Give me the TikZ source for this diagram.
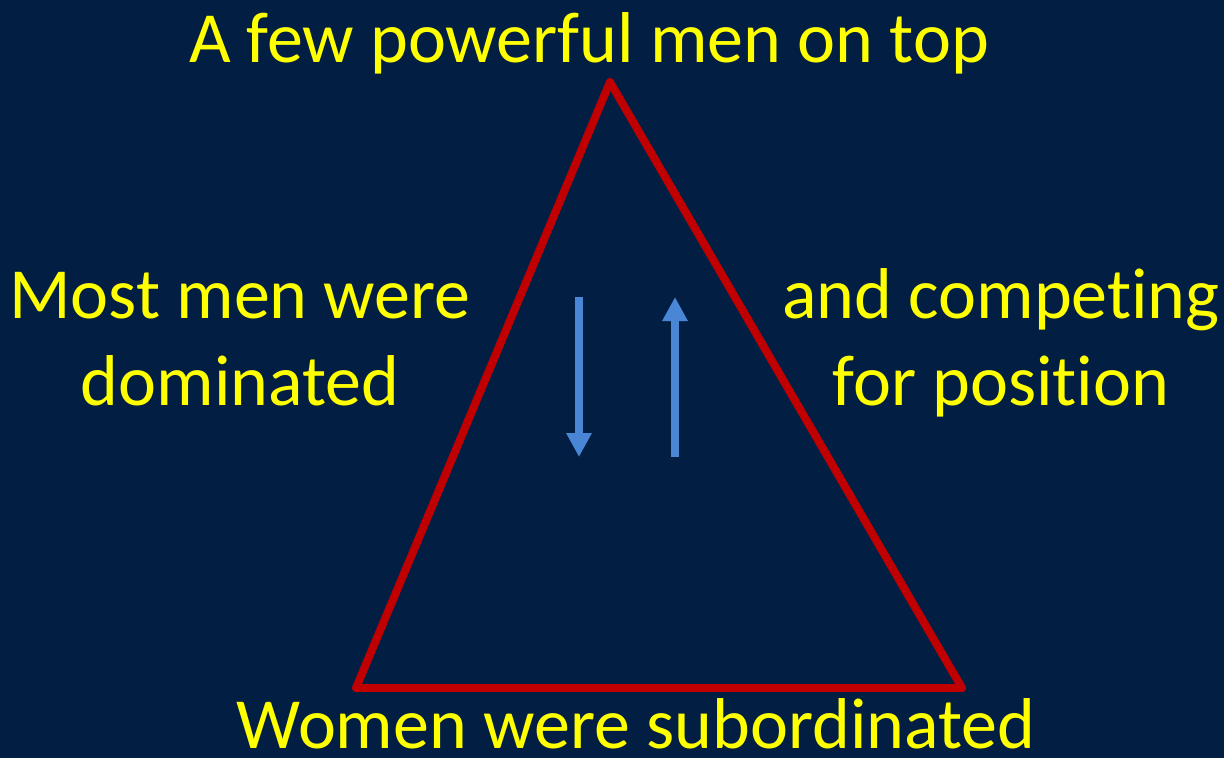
\documentclass[tikz,border=0pt]{standalone}
\usepackage{fontspec}
\setmainfont[Ligatures={NoCommon}]{Carlito}
\usetikzlibrary{arrows.meta}
\definecolor{navy}{HTML}{021F43}
\definecolor{tri}{HTML}{C00000}
\definecolor{flow}{HTML}{4A86D6}
\definecolor{caption}{HTML}{FFFF00}
\begin{document}
\begin{tikzpicture}[x=1pt, y=-1pt,
  lab/.style={text=caption, font=\fontsize{72}{87}\selectfont, inner sep=0pt, anchor=base, align=center},
  side/.style={draw=tri, line width=8pt, line cap=round},
  move/.style={draw=flow, line width=7.5pt, -{Triangle[width=24pt, length=24pt]}}]
\fill[navy] (0,0) rectangle (1224,758);
% corners of the triangle
\coordinate (apex) at (610,82);
\coordinate (bl) at (356,688);
\coordinate (br) at (962,688);
\draw[side] (bl) -- (apex); \draw[side] (apex) -- (br); \draw[side] (bl) -- (br);
% arrows inside
\coordinate (dtop) at (579,297);
\coordinate (dbot) at (579,457);
\coordinate (ubot) at (675,457);
\coordinate (utop) at (675,297);
\draw[move] (dtop) -- (dbot);
\draw[move] (ubot) -- (utop);
% labels
\node[lab] (top) at (589,62) {A few powerful men on top};
\node[lab] (left) at (240,405) {Most men were\\dominated};
\node[lab] (right) at (1001,405) {and competing\\for position};
\node[lab] (bottom) at (636,748) {Women were subordinated};
\end{tikzpicture}
\end{document}
